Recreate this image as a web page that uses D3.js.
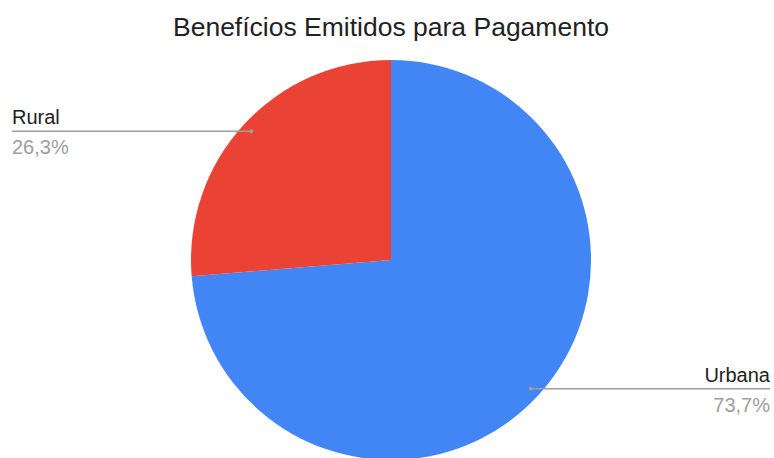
<!DOCTYPE html>
<html>
<head>
<meta charset="utf-8">
<script src="https://cdn.jsdelivr.net/npm/d3@7"></script>
<style>
  html, body { margin: 0; padding: 0; background: #fff; }
  svg { display: block; font-family: Arial, "Liberation Sans", sans-serif; }
</style>
</head>
<body>
<svg id="chart" width="774" height="458"></svg>
<script>
const title = "Benefícios Emitidos para Pagamento";
const categories = ["Urbana", "Rural"];
const values = [73.7, 26.3];
const percentLabels = ["73,7%", "26,3%"];
const colors = ["#4285f4", "#ea4335"];

const svg = d3.select("#chart");
const cx = 391, cy = 260, radius = 200;

svg.append("text")
  .attr("x", cx).attr("y", 36)
  .attr("text-anchor", "middle")
  .attr("font-size", 26.5)
  .attr("fill", "#222")
  .text(title);

const data = categories.map((c, i) => ({ name: c, value: values[i], label: percentLabels[i], color: colors[i] }));

// slices run clockwise from twelve o'clock in data order
const pie = d3.pie().sort(null).value(d => d.value);
const arcs = pie(data);
const arc = d3.arc().innerRadius(0).outerRadius(radius);
const dotArc = d3.arc().innerRadius(190).outerRadius(190);

const g = svg.append("g").attr("transform", `translate(${cx},${cy})`);
g.selectAll("path.slice")
  .data(arcs)
  .join("path")
  .attr("class", "slice")
  .attr("d", arc)
  .attr("fill", d => d.data.color);

// leader lines with name above and percentage below
arcs.forEach(a => {
  const [dx, dy] = dotArc.centroid(a);
  const px = cx + dx, py = cy + dy;
  const right = px > cx;
  const endX = right ? 770 : 12;
  svg.append("line")
    .attr("x1", px).attr("y1", py)
    .attr("x2", endX).attr("y2", py)
    .attr("stroke", "#9e9e9e").attr("stroke-width", 1.5);
  svg.append("circle")
    .attr("cx", px).attr("cy", py).attr("r", 2)
    .attr("fill", "#9e9e9e");
  svg.append("text")
    .attr("x", endX).attr("y", py - 7)
    .attr("text-anchor", right ? "end" : "start")
    .attr("font-size", 20)
    .attr("fill", "#222")
    .text(a.data.name);
  svg.append("text")
    .attr("x", endX).attr("y", py + 23)
    .attr("text-anchor", right ? "end" : "start")
    .attr("font-size", 20)
    .attr("fill", "#9e9e9e")
    .text(a.data.label);
});
</script>
</body>
</html>
